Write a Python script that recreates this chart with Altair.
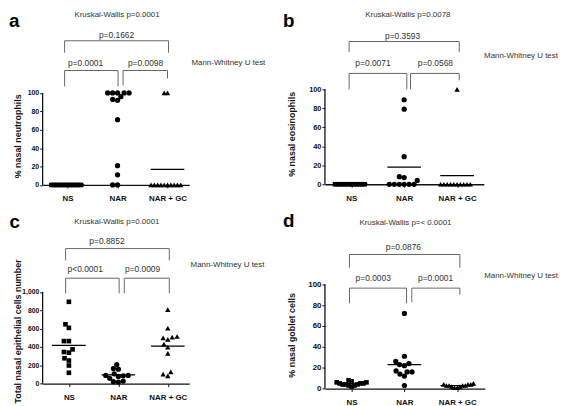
import math
import altair as alt
import pandas as pd

FONT = "Liberation Sans"

# ---------------- data ----------------
categories = ["NS", "NAR", "NAR + GC"]
shapes = ["square", "circle", "triangle-up"]

# a: % nasal neutrophils
neutrophils_NS = [0, 0, 0, 0, 0, 0, 0, 0, 0, 0, 0, 0]
neutrophils_NAR = [100, 100, 100, 100, 100, 96, 93, 92, 71, 21, 11, 0, 0]
neutrophils_GC = [100, 100, 0, 0, 0, 0, 0, 0, 0, 0, 0, 0]
neutrophils_lines = [0, None, 17]
neutrophils_p = ["Kruskal-Wallis p=0.0001", "p=0.1662", "p=0.0001", "p=0.0098"]

# b: % nasal eosinophils
eosinophils_NS = [0, 0, 0, 0, 0, 0, 0, 0, 0, 0, 0, 0]
eosinophils_NAR = [89, 79, 29, 8, 7, 4, 0, 0, 0, 0, 0, 0]
eosinophils_GC = [100, 0, 0, 0, 0, 0, 0, 0, 0, 0, 0]
eosinophils_lines = [0, 18, 9]
eosinophils_p = ["Kruskal-Wallis p=0.0078", "p=0.3593", "p=0.0071", "p=0.0568"]

# c: total nasal epithelial cells number
epithelial_NS = [892, 647, 608, 464, 464, 374, 345, 338, 277, 252, 198, 119]
epithelial_NAR = [209, 165, 158, 108, 90, 90, 86, 79, 58, 29, 22, 18]
epithelial_GC = [806, 604, 514, 507, 500, 482, 432, 399, 331, 129, 104, 86]
epithelial_lines = [417, 97, 410]
epithelial_p = ["Kruskal-Wallis p=0.0001", "p=0.8852", "p<0.0001", "p=0.0009"]

# d: % nasal goblet cells
goblet_NS = [8, 7, 6, 6, 5, 5, 5, 4, 4, 4, 3, 3, 2]
goblet_NAR = [72, 31, 26, 24, 23, 22, 17, 16, 16, 14, 12, 3]
goblet_GC = [5, 4, 4, 4, 3, 3, 3, 3, 2, 2, 1, 1]
goblet_lines = [5, 23, 3]
goblet_p = ["Kruskal-Wallis p=< 0.0001", "p=0.0876", "p=0.0003", "p=0.0001"]

y_titles = ["% nasal neutrophils", "% nasal eosinophils",
            "Total nasal epithelial cells number", "% nasal goblet cells"]
pct_ticks = [0, 20, 40, 60, 80, 100]
count_ticks = [0, 200, 400, 600, 800, 1000]
panel_letters = ["a", "b", "c", "d"]
test_label = "Mann-Whitney U test"

# ---------------- layout (positions in data units of each panel) ----------------
LAYOUT = [
    dict(W=148.25, H=176.7, xdom=(0.5, 3.4356), ymax=190.0, ytop=100, titleX=-25.75, titleY=127,
         lab=7,
         kw=(1.99, 184.6), top=(0.94, 3.02, 156.7, 143.8, 143.8), ptop=(1.98, 163.1),
         left=(0.94, 2.01, 124.4, 107.2, 107.2), right=(2.11, 3.0, 124.4, 108.3, 115.8),
         pl=(1.36, 133), pr=(2.56, 133), mw=(3.48, 133), letter=(-0.174, 171.4)),
    dict(W=160.6, H=176.0, xdom=(0.503, 3.505), ymax=183.33, ytop=100, titleX=-33.5, titleY=125,
         lab=7.5,
         kw=(2.07, 178.1), top=(0.96, 3.04, 150.3, 139.3, 139.3), ptop=(1.97, 156.25),
         left=(0.96, 2.05, 116.7, 100, 100), right=(2.12, 3.04, 116.7, 100, 109.4),
         pl=(1.41, 128.1), pr=(2.59, 128.1), mw=(3.51, 134.7), letter=(-0.29, 165.3)),
    dict(W=148.25, H=177.3, xdom=(0.469, 3.434), ymax=1910.6, ytop=1000, titleX=-25.25, titleY=124,
         lab=6.8,
         kw=(1.97, 1760), top=(0.934, 3.03, 1472, 1343, 1343), ptop=(1.77, 1558),
         left=(0.934, 2.016, 1149, 984, 984), right=(2.12, 3.03, 1149, 984, 984),
         pl=(1.33, 1246), pr=(2.49, 1246), mw=(3.46, 1293), letter=(-0.2, 1695)),
    dict(W=161.6, H=182.3, xdom=(0.496, 3.522), ymax=172.6, ytop=100, titleX=-34, titleY=128,
         lab=8,
         kw=(2.02, 158.4), top=(0.96, 3.05, 128.4, 115.8, 115.8), ptop=(1.98, 135.4),
         left=(0.96, 2.04, 96.2, 81.7, 81.7), right=(2.14, 3.05, 96.2, 82.7, 90),
         pl=(1.41, 105.7), pr=(2.59, 105.7), mw=(3.51, 108), letter=(-0.298, 154.6)),
]

label_expr = " : ".join(
    [f"datum.value == {i + 1} ? '{c}'" for i, c in enumerate(categories[:-1])] + [f"'{categories[-1]}'"]
)


def swarm(vals, kx, ky, d=5.0, maxw=30.0):
    """Beeswarm offsets (in x data units) so markers do not overlap."""
    idx = sorted(range(len(vals)), key=lambda i: vals[i])
    placed, off = [], [0.0] * len(vals)
    for i in idx:
        y = vals[i] * ky
        forb = []
        for px, py in placed:
            dy = abs(y - py)
            if dy < d:
                dx = math.sqrt(d * d - dy * dy)
                forb.append((px - dx, px + dx))
        cands = sorted({0.0} | {a for a, _ in forb} | {b for _, b in forb}, key=lambda c: (abs(c), c))
        chosen = 0.0
        for c in cands:
            if all(not (a + 1e-6 < c < b - 1e-6) for a, b in forb):
                chosen = c
                break
        placed.append((chosen, y))
        off[i] = chosen
    ext = max(off) - min(off)
    s = min(1.0, maxw / ext) if ext > 0 else 1.0
    return [o * s / kx for o in off]


def panel(groups, lines, texts, ytitle, yticks, letter, G):
    x0, x1 = G["xdom"]
    kx = G["W"] / (x1 - x0)
    ky = G["H"] / G["ymax"]
    xs = alt.Scale(domain=[x0, x1], nice=False, zero=False)
    ys = alt.Scale(domain=[0, G["ymax"]], nice=False, zero=False)
    xa = alt.Axis(values=[1, 2, 3], labelExpr=label_expr, title=None, grid=False,
                  domainColor="#111", domainWidth=1.3, tickColor="#111", tickSize=3, tickWidth=1,
                  labelFont=FONT, labelFontWeight="bold", labelFontSize=8, labelPadding=7,
                  labelColor="#111", labelFlush=False)
    ya = alt.Axis(values=yticks, title=ytitle, grid=False, domain=False, tickColor="#111",
                  tickSize=3, tickWidth=1, labelFont=FONT, labelFontWeight="bold",
                  labelFontSize=G["lab"], labelPadding=1, labelColor="#111", titleFont=FONT,
                  titleFontWeight="bold", titleFontSize=9, titleColor="#111", titleAngle=270,
                  titleAlign="center", titleBaseline="middle", titleX=G["titleX"], titleY=G["titleY"])

    def X(f):
        return alt.X(f, type="quantitative", scale=xs, axis=xa)

    def Y(f):
        return alt.Y(f, type="quantitative", scale=ys, axis=ya)

    layers = []
    # y axis line (0 .. top tick)
    layers.append(alt.Chart(pd.DataFrame({"x": [x0], "y": [0], "y2": [G["ytop"]]}))
                  .mark_rule(color="#111", strokeWidth=1.3)
                  .encode(x=X("x"), y=Y("y"), y2="y2"))
    # points
    sizes = [22, 28, 30]
    for gi, (vals, shp, sz) in enumerate(zip(groups, shapes, sizes), start=1):
        offs = swarm(vals, kx, ky)
        df = pd.DataFrame({"x": [gi + o for o in offs], "v": vals})
        layers.append(alt.Chart(df).mark_point(shape=shp, size=sz, filled=True, opacity=1,
                                               color="#000", strokeWidth=0)
                      .encode(x=X("x"), y=Y("v")))
    # mean lines
    hw = 17.0 / kx
    mdf = pd.DataFrame([{"x": gi - hw, "x2": gi + hw, "y": m}
                        for gi, m in enumerate(lines, start=1) if m is not None])
    layers.append(alt.Chart(mdf).mark_rule(color="#000", strokeWidth=1.2)
                  .encode(x=X("x"), x2="x2", y=Y("y")))
    # brackets
    segs = []
    for key in ("top", "left", "right"):
        a, b, lvl, l1, l2 = G[key]
        segs += [dict(x=a, x2=b, y=lvl, y2=lvl), dict(x=a, x2=a, y=lvl, y2=l1),
                 dict(x=b, x2=b, y=lvl, y2=l2)]
    layers.append(alt.Chart(pd.DataFrame(segs)).mark_rule(color="#666", strokeWidth=1)
                  .encode(x=X("x"), x2="x2", y=Y("y"), y2="y2"))
    # texts
    kw_df = pd.DataFrame([{"x": G["kw"][0], "y": G["kw"][1], "t": texts[0]}])
    layers.append(alt.Chart(kw_df).mark_text(font=FONT, fontSize=8, color="#333", align="center",
                                             baseline="middle")
                  .encode(x=X("x"), y=Y("y"), text="t:N"))
    p_df = pd.DataFrame([{"x": G["ptop"][0], "y": G["ptop"][1], "t": texts[1]},
                         {"x": G["pl"][0], "y": G["pl"][1], "t": texts[2]},
                         {"x": G["pr"][0], "y": G["pr"][1], "t": texts[3]}])
    layers.append(alt.Chart(p_df).mark_text(font=FONT, fontSize=8.5, color="#333", align="center",
                                            baseline="middle")
                  .encode(x=X("x"), y=Y("y"), text="t:N"))
    mw_df = pd.DataFrame([{"x": G["mw"][0], "y": G["mw"][1], "t": test_label}])
    layers.append(alt.Chart(mw_df).mark_text(font=FONT, fontSize=8, color="#333", align="left",
                                             baseline="middle")
                  .encode(x=X("x"), y=Y("y"), text="t:N"))
    lt_df = pd.DataFrame([{"x": G["letter"][0], "y": G["letter"][1], "t": letter}])
    layers.append(alt.Chart(lt_df).mark_text(font=FONT, fontSize=19, fontWeight="bold", color="#000",
                                             align="left", baseline="alphabetic")
                  .encode(x=X("x"), y=Y("y"), text="t:N"))
    return alt.layer(*layers).properties(width=G["W"], height=G["H"])


panel_data = [
    ([neutrophils_NS, neutrophils_NAR, neutrophils_GC], neutrophils_lines, neutrophils_p, pct_ticks),
    ([eosinophils_NS, eosinophils_NAR, eosinophils_GC], eosinophils_lines, eosinophils_p, pct_ticks),
    ([epithelial_NS, epithelial_NAR, epithelial_GC], epithelial_lines, epithelial_p, count_ticks),
    ([goblet_NS, goblet_NAR, goblet_GC], goblet_lines, goblet_p, pct_ticks),
]

charts = [panel(g, l, t, y_titles[i], ticks, panel_letters[i], LAYOUT[i])
          for i, (g, l, t, ticks) in enumerate(panel_data)]

chart = (alt.concat(*charts, columns=2, spacing={"row": 23.3, "column": 136.4},
                    bounds="flush", align="each")
         .properties(padding=0, background="white")
         .configure_view(stroke=None))

chart.save("out.html", embed_options={"renderer": "svg", "actions": False})
